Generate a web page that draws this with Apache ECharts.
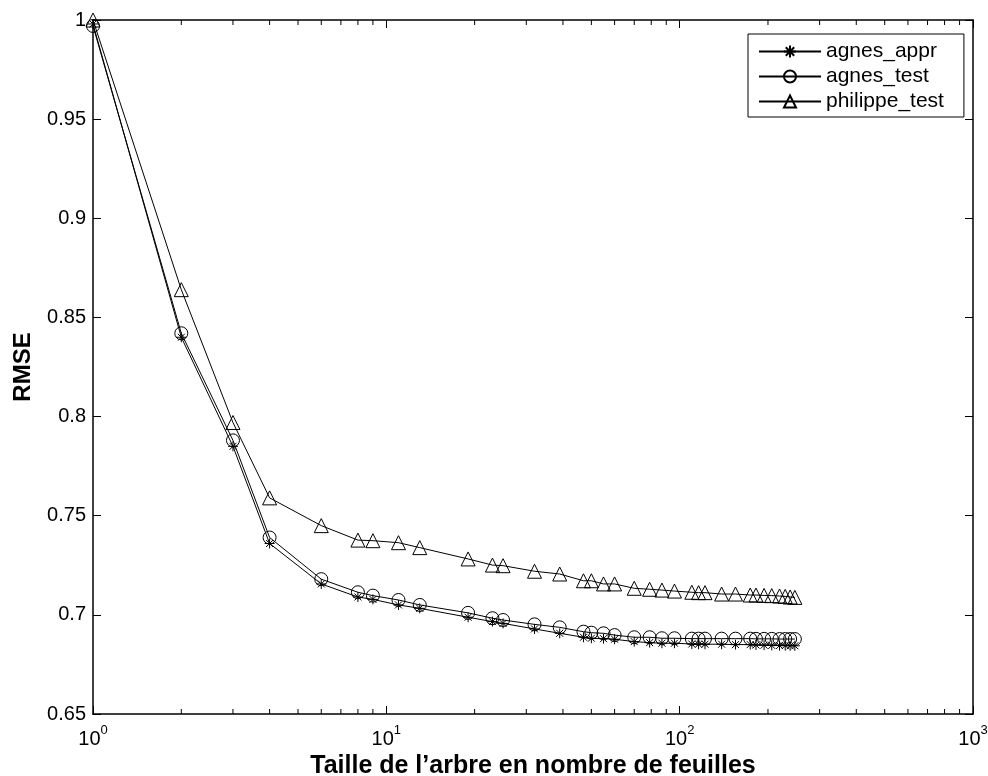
<!DOCTYPE html>
<html>
<head>
<meta charset="utf-8">
<script src="https://cdn.jsdelivr.net/npm/echarts@6/dist/echarts.min.js"></script>
<style>html,body{margin:0;padding:0;background:#fff}#c{width:988px;height:776px}</style>
</head>
<body>
<div id="c"></div>
<script>
// ---- data ----
var sizes = [1,2,3,4,6,8,9,11,13,19,23,25,32,39,47,50,55,60,70,79,87,96,110,116,122,139,155,174,182,194,206,219,229,238,247];
var agnesAppr = [0.998,0.840,0.785,0.736,0.7156,0.709,0.7078,0.705,0.7033,0.6988,0.6966,0.6957,0.6929,0.6907,0.6887,0.6882,0.688,0.6877,0.6865,0.686,0.6857,0.6857,0.6853,0.6852,0.6852,0.6852,0.685,0.685,0.6848,0.6847,0.6846,0.6845,0.6845,0.6844,0.6844];
var agnesTest = [0.997,0.842,0.788,0.739,0.718,0.7114,0.7097,0.7075,0.705,0.701,0.6983,0.6974,0.6952,0.6937,0.6915,0.691,0.6907,0.6898,0.6887,0.6887,0.6882,0.6882,0.688,0.688,0.688,0.688,0.688,0.688,0.6879,0.6879,0.6879,0.6878,0.6878,0.6878,0.6878];
var philippeTest = [1.0,0.864,0.797,0.759,0.745,0.7377,0.7374,0.7364,0.7339,0.7282,0.7251,0.7248,0.722,0.7206,0.7172,0.7172,0.7156,0.7156,0.7134,0.7129,0.7125,0.712,0.7114,0.7112,0.7112,0.7105,0.7105,0.710,0.710,0.7098,0.7097,0.7095,0.7093,0.709,0.7088];
var seriesNames = ['agnes_appr','agnes_test','philippe_test'];
var xMin = 1, xMax = 1000, yMin = 0.65, yMax = 1, yStep = 0.05;
var minorTickValues = [2,3,4,5,6,7,8,9,20,30,40,50,60,70,80,90,200,300,400,500,600,700,800,900];
var xTitle = 'Taille de l\u2019arbre en nombre de feuilles';
var yTitle = 'RMSE';

// ---- chart ----
var FONT = '"Liberation Sans", Arial, Helvetica, sans-serif';
var chart = echarts.init(document.getElementById('c'), null, {renderer:'canvas'});
function pairs(ys){ return sizes.map(function(x,i){ return [x, ys[i]]; }); }
var asterisk = 'path://M10,0L10,20M0,10L20,10M3,3L17,17M3,17L17,3';
var axisLine = {show:true, lineStyle:{color:'#000', width:1.5}};
function lineSeries(name, ys, symbol, size){
  return {
    name:name, type:'line', data:pairs(ys), xAxisIndex:0, yAxisIndex:0,
    symbol:symbol, symbolSize:size, showAllSymbol:true,
    lineStyle:{color:'#000', width:1},
    itemStyle:{color:'none', borderColor:'#000', borderWidth:1},
    emphasis:{disabled:true}, animation:false, z:3
  };
}
var option = {
  animation:false,
  backgroundColor:'#fff',
  textStyle:{fontFamily:FONT},
  grid:{left:93, right:15, top:20, bottom:62, show:false, containLabel:false, outerBoundsMode:'none'},
  legend:{
    data:seriesNames, orient:'vertical', left:748, top:34,
    backgroundColor:'#fff', borderColor:'#000', borderWidth:1, borderRadius:0,
    padding:[7,20,5,10], itemGap:4, itemWidth:62, itemHeight:15,
    textStyle:{fontFamily:FONT, fontSize:21, color:'#000'}
  },
  xAxis:[{
    type:'log', logBase:10, min:xMin, max:xMax, position:'bottom',
    axisLine:axisLine,
    axisTick:{show:true, inside:true, length:8, lineStyle:{color:'#000', width:1}},
    splitLine:{show:false},
    axisLabel:{
      color:'#000', margin:10,
      formatter:function(v){ return '{b|10}{s|' + Math.round(Math.log10(v)) + '}'; },
      rich:{
        b:{fontFamily:FONT, fontSize:20, color:'#000', lineHeight:25, verticalAlign:'bottom'},
        s:{fontFamily:FONT, fontSize:13, color:'#000', lineHeight:25, verticalAlign:'top'}
      }
    },
    name:xTitle, nameLocation:'middle', nameGap:36,
    nameTextStyle:{fontFamily:FONT, fontSize:25, fontWeight:'bold', color:'#000'}
  },{
    type:'log', logBase:10, min:xMin, max:xMax, position:'top',
    axisLine:axisLine,
    axisTick:{show:true, inside:true, length:8, lineStyle:{color:'#000', width:1}},
    axisLabel:{show:false}, splitLine:{show:false}
  }],
  yAxis:[{
    type:'value', min:yMin, max:yMax, interval:yStep, position:'left',
    axisLine:axisLine,
    axisTick:{show:true, inside:true, length:8, lineStyle:{color:'#000', width:1}},
    splitLine:{show:false},
    axisLabel:{color:'#000', fontFamily:FONT, fontSize:20, margin:7,
      formatter:function(v){ return String(parseFloat(v.toFixed(2))); }},
    name:yTitle, nameLocation:'middle', nameGap:58,
    nameTextStyle:{fontFamily:FONT, fontSize:24, fontWeight:'bold', color:'#000'}
  },{
    type:'value', min:yMin, max:yMax, interval:yStep, position:'right',
    axisLine:axisLine,
    axisTick:{show:true, inside:true, length:8, lineStyle:{color:'#000', width:1}},
    axisLabel:{show:false}, splitLine:{show:false}
  }],
  series:[
    lineSeries(seriesNames[0], agnesAppr, asterisk, 10),
    lineSeries(seriesNames[1], agnesTest, 'circle', 13),
    lineSeries(seriesNames[2], philippeTest, 'triangle', 14),
    {
      type:'custom', xAxisIndex:0, yAxisIndex:0, silent:true, z:2,
      data:minorTickValues.map(function(v){ return [v]; }),
      renderItem:function(params, api){
        var v = api.value(0);
        var b = api.coord([v, yMin]);
        var t = api.coord([v, yMax]);
        return {type:'group', children:[
          {type:'line', shape:{x1:b[0], y1:b[1], x2:b[0], y2:b[1]-5}, style:{stroke:'#000', lineWidth:1}},
          {type:'line', shape:{x1:t[0], y1:t[1], x2:t[0], y2:t[1]+5}, style:{stroke:'#000', lineWidth:1}}
        ]};
      }
    }
  ]
};
chart.setOption(option);
</script>
</body>
</html>
